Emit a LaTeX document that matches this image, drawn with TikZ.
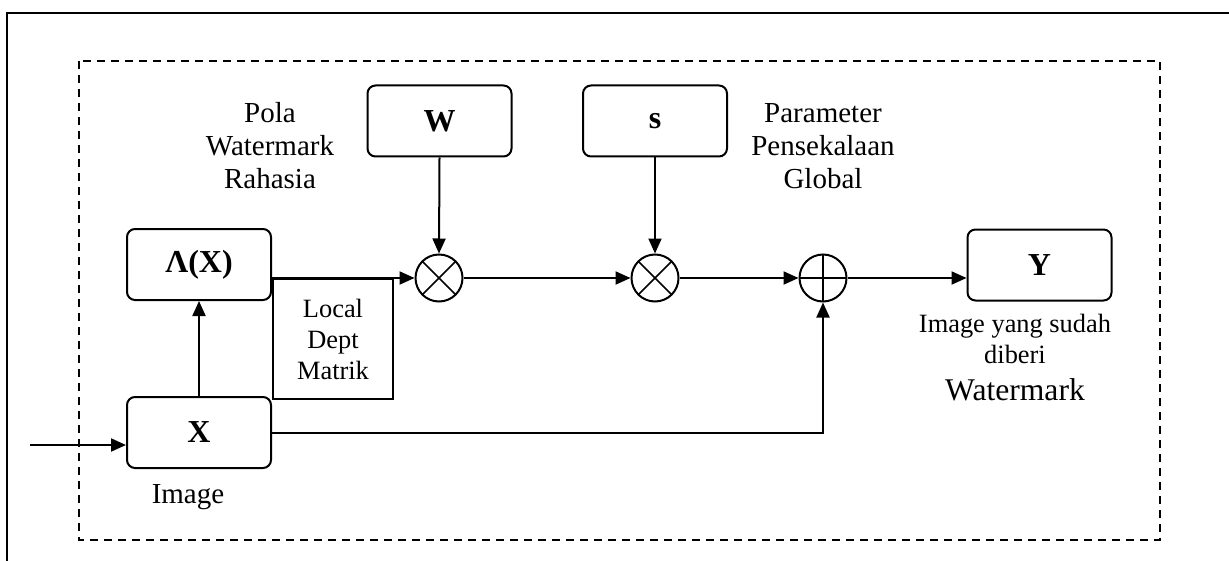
\documentclass[tikz,border=0pt]{standalone}
\usepackage{fontspec}
\setmainfont{Liberation Serif}
\usetikzlibrary{arrows.meta,calc}

\begin{document}
\begin{tikzpicture}[x=0.5pt,y=-0.5pt,
	blok/.style={draw,line width=1pt,rounded corners=4pt,minimum width=72pt,minimum height=35.5pt,
		font=\fontsize{16}{18}\selectfont\bfseries},
	kali/.style={draw,circle,line width=1pt,minimum size=23.5pt,inner sep=0pt,
		path picture={\draw[line width=0.8pt] (path picture bounding box.north west) -- (path picture bounding box.south east)
			(path picture bounding box.north east) -- (path picture bounding box.south west);}},
	tambah/.style={draw,circle,line width=1pt,minimum size=23.5pt,inner sep=0pt,
		path picture={\draw[line width=0.8pt] (path picture bounding box.north) -- (path picture bounding box.south)
			(path picture bounding box.west) -- (path picture bounding box.east);}},
	ket/.style={align=center,inner sep=0pt,font=\fontsize{14.5}{16.5}\selectfont},
	ketkecil/.style={align=center,inner sep=0pt,font=\fontsize{13.2}{15.5}\selectfont},
	panah/.style={line width=1pt,-{Triangle[length=7.5pt,width=6.5pt]}}]
			%%%%% START %%%%%
			
			\useasboundingbox (0,0) rectangle (1229,561);
			
			% frame and dashed system border
			\draw[line width=1pt] (7,561) -- (7,13) -- (1229,13);
			\draw[line width=1pt,dash pattern=on 4pt off 3pt] (79,61) rectangle (1160,540);
			
			% blocks
			\node[blok] (lam) at (199,264.5) {Λ(X)};
			\node[blok] (x) at (199,432.5) {X};
			\node[blok] (w) at (439.5,121) {W};
			\node[blok] (s) at (655,121) {s};
			\node[blok] (y) at (1039.5,265) {Y};
			
			% multipliers and adder
			\node[kali] (m1) at (439,278) {};
			\node[kali] (m2) at (655,278) {};
			\node[tambah] (add) at (823,278) {};
			
			% local depth matrix box under the lambda output
			\node[draw,line width=1pt,ketkecil,minimum width=60pt,minimum height=60pt,anchor=north west]
				(ldm) at (lam.east |- m1.west) {Local\\Dept\\Matrik};
			
			% labels
			\node[ket] (lpola) at (270,146) {Pola\\Watermark\\Rahasia};
			\node[ket] (lparam) at (823,146) {Parameter\\Pensekalaan\\Global};
			\node[ket] (limg) at (188,497) {Image};
			\node[ketkecil,anchor=north] (lout) at (1015,314) {Image yang sudah\\diberi\\[3pt]{\fontsize{15.8}{19}\selectfont Watermark}};
			
			% connectors
			\coordinate (in) at (30,445);
			\draw[panah] (in) -- (in -| x.west);
			\draw[panah] (x.north) -- (lam.south);
			\draw[panah] (lam.east |- m1.west) -- (m1.west);
			\draw[panah] (w.south) -- (m1.north);
			\draw[panah] (m1.east) -- (m2.west);
			\draw[panah] (s.south) -- (m2.north);
			\draw[panah] (m2.east) -- (add.west);
			\draw[panah] (add.east) -- (add.east -| y.west);
			\draw[panah] (x.east) -| (add.south);
			
			%%%%% END %%%%%
		\end{tikzpicture}
\end{document}
